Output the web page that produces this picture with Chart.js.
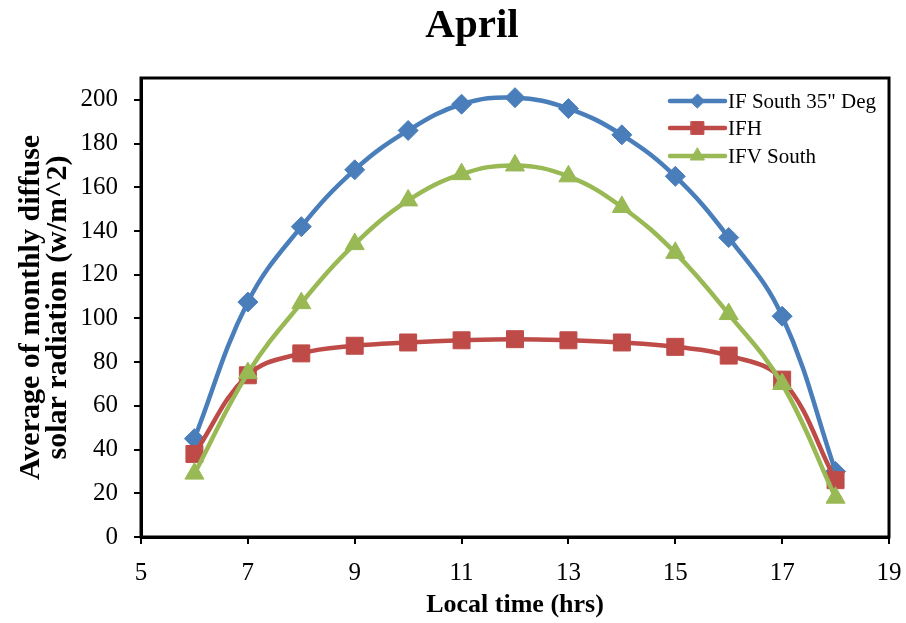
<!DOCTYPE html>
<html>
<head>
<meta charset="utf-8">
<script src="https://cdn.jsdelivr.net/npm/chart.js@4/dist/chart.umd.min.js"></script>
<style>
  html, body { margin: 0; padding: 0; background: #fff; }
  #wrap { width: 906px; height: 623px; }
</style>
</head>
<body>
<div id="wrap"><canvas id="myChart"></canvas></div>
<script>
const hours = [6, 7, 8, 9, 10, 11, 12, 13, 14, 15, 16, 17, 18];
const ifSouth35 = [45, 107.5, 142, 168, 186, 198, 201, 196, 184, 165, 137, 101, 30];
const ifh = [38, 74, 84, 87.5, 89, 90, 90.5, 90, 89, 87, 83, 72, 26];
const ifvSouth = [29, 75, 107, 134, 154, 166, 170, 165, 151, 130, 102, 70, 18];
const xTicks = [5, 7, 9, 11, 13, 15, 17, 19];
const yTicks = [0, 20, 40, 60, 80, 100, 120, 140, 160, 180, 200];

const serif = '"Liberation Serif", "Times New Roman", serif';

const toPoints = (vals) => hours.map((h, i) => ({ x: h, y: vals[i] }));

const ctx = document.getElementById('myChart').getContext('2d');

// title sits a bit right of the canvas centre, as in the original
const topTitle = {
    id: 'topTitle',
    afterDraw(chart) {
        const c = chart.ctx;
        c.save();
        c.fillStyle = '#000';
        c.font = 'bold 41px ' + serif;
        c.textAlign = 'center';
        c.textBaseline = 'alphabetic';
        c.fillText('April', 472, 37);
        c.restore();
    }
};

// legend drawn inside the plot, top right, like the Excel original
const innerLegend = {
    id: 'innerLegend',
    afterDatasetsDraw(chart) {
        const c = chart.ctx;
        const x0 = 670, x1 = 725;
        const rows = [101, 128, 156];
        const sizes = [7, 9, 8];
        chart.data.datasets.forEach((ds, i) => {
            const y = rows[i];
            c.save();
            c.strokeStyle = ds.borderColor;
            c.lineWidth = 4.5;
            c.lineCap = 'round';
            c.beginPath();
            c.moveTo(x0, y);
            c.lineTo(x1, y);
            c.stroke();
            c.fillStyle = ds.backgroundColor;
            c.strokeStyle = ds.borderColor;
            c.lineWidth = 1;
            Chart.helpers.drawPoint(c, { pointStyle: ds.pointStyle, rotation: 0, radius: sizes[i], borderWidth: 1 }, (x0 + x1) / 2, y);
            c.fillStyle = '#000';
            c.font = '21px ' + serif;
            c.textBaseline = 'middle';
            c.textAlign = 'left';
            c.fillText(ds.label, 728, y + 1);
            c.restore();
        });
    }
};

const frame = {
    id: 'frame',
    afterDraw(chart) {
        const a = chart.chartArea;
        const c = chart.ctx;
        c.save();
        c.strokeStyle = '#000';
        c.lineWidth = 3;
        c.strokeRect(a.left, a.top, a.right - a.left, a.bottom - a.top);
        c.restore();
    }
};

const data = {
    datasets: [
        {
            label: 'IF South 35" Deg',
            data: toPoints(ifSouth35),
            borderColor: '#4a7ebb',
            backgroundColor: '#4a7ebb',
            pointStyle: 'rectRot',
            pointRadius: 10,
            order: 3
        },
        {
            label: 'IFH',
            data: toPoints(ifh),
            borderColor: '#be4b48',
            backgroundColor: '#be4b48',
            pointStyle: 'rect',
            pointRadius: 12,
            order: 2
        },
        {
            label: 'IFV South',
            data: toPoints(ifvSouth),
            borderColor: '#98b954',
            backgroundColor: '#98b954',
            pointStyle: 'triangle',
            pointRadius: 11,
            order: 1
        }
    ]
};

const config = {
    type: 'line',
    data: data,
    plugins: [innerLegend, frame, topTitle],
    options: {
        responsive: true,
        maintainAspectRatio: false,
        animation: false,
        elements: {
            line: { borderWidth: 4.5, tension: 0.4, fill: false },
            point: { borderWidth: 1, hoverRadius: 10 }
        },
        layout: { padding: { left: 0, right: 17, top: 78, bottom: 0 } },
        plugins: {
            legend: { display: false },
            tooltip: { enabled: false },
            title: { display: false }
        },
        scales: {
            x: {
                type: 'linear',
                min: 5,
                max: 19,
                afterBuildTicks: (axis) => { axis.ticks = xTicks.map(v => ({ value: v })); },
                afterFit: (axis) => {
                    axis.height = 86;
                    axis.paddingLeft = 0;
                    axis.paddingRight = 0;
                },
                grid: { drawOnChartArea: false, color: '#000', lineWidth: 2, tickLength: 7 },
                border: { color: '#000', width: 3 },
                ticks: { color: '#000', font: { family: serif, size: 25 }, padding: 14, maxRotation: 0 },
                title: {
                    display: true,
                    text: 'Local time (hrs)',
                    color: '#000',
                    font: { family: serif, size: 26, weight: 'bold' },
                    padding: { top: 0, bottom: 2 }
                }
            },
            y: {
                min: 0,
                max: 210,
                afterBuildTicks: (axis) => { axis.ticks = yTicks.map(v => ({ value: v })); },
                afterFit: (axis) => {
                    axis.width = 141;
                    axis.paddingTop = 0;
                    axis.paddingBottom = 0;
                },
                grid: { drawOnChartArea: false, color: '#000', lineWidth: 2, tickLength: 7 },
                border: { color: '#000', width: 3 },
                ticks: { color: '#000', font: { family: serif, size: 25 }, padding: 16 },
                title: {
                    display: true,
                    text: ['Average of monthly diffuse', 'solar radiation (w/m^2)'],
                    color: '#000',
                    font: { family: serif, size: 30, weight: 'bold', lineHeight: 0.9 },
                    padding: { top: 18, bottom: 0 }
                }
            }
        }
    }
};

const myChart = new Chart(ctx, config);
</script>
</body>
</html>
